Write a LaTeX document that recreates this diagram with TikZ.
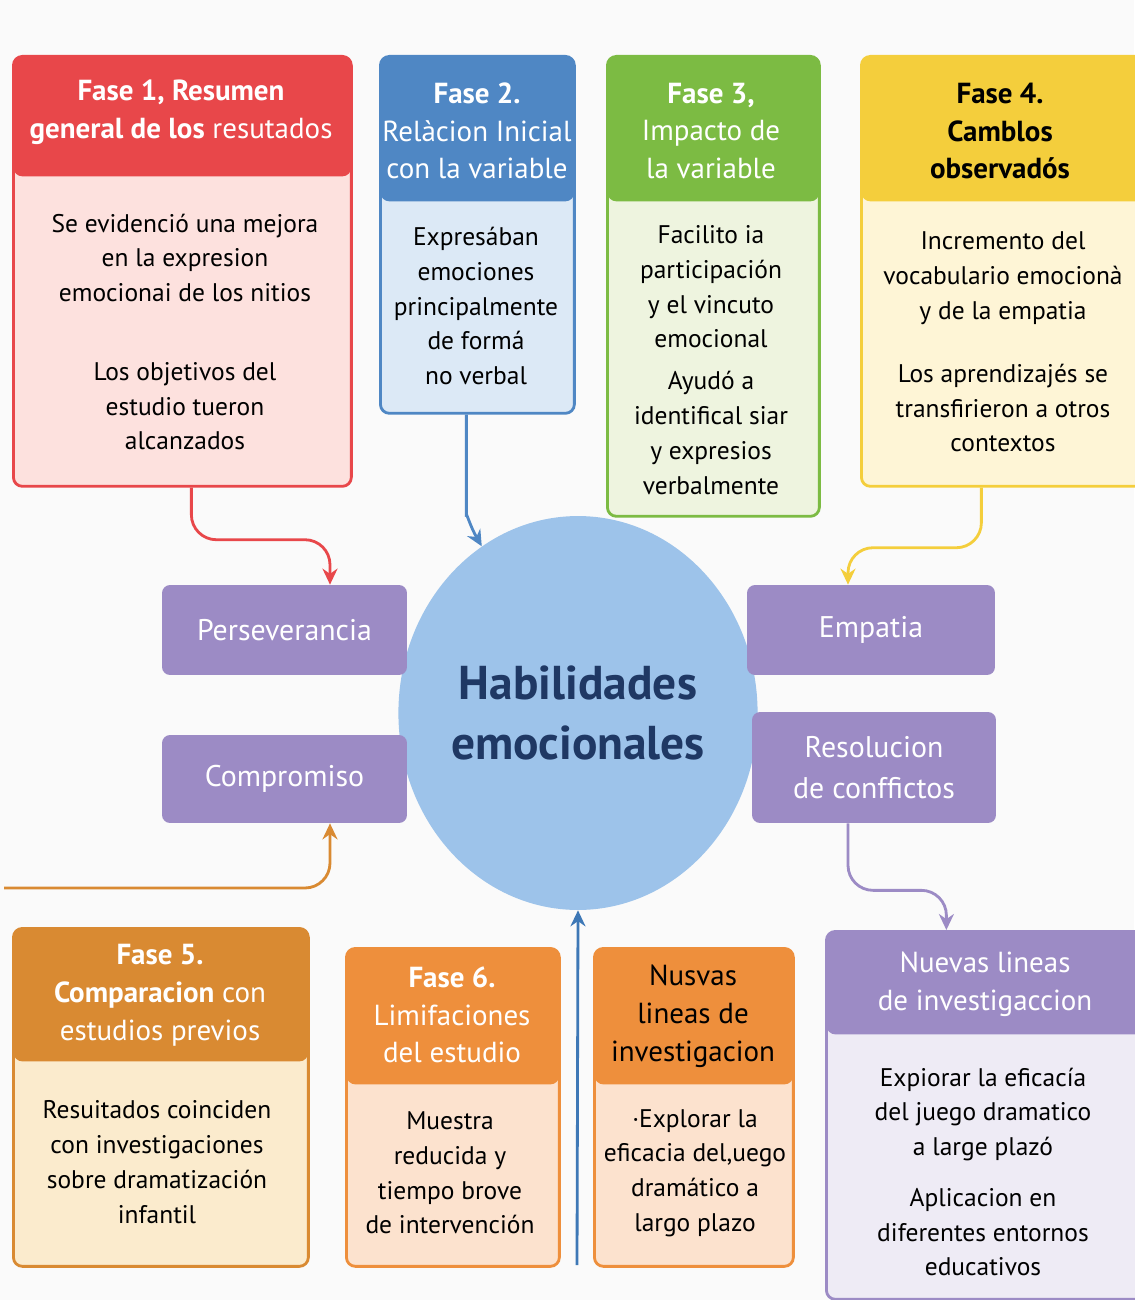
\documentclass[tikz,border=0pt]{standalone}
\usepackage{fontspec}
\setmainfont{PT Sans}
\usetikzlibrary{arrows.meta}
\usetikzlibrary{shapes.geometric}

\definecolor{bg}{HTML}{FAFAFA}
\definecolor{f1head}{HTML}{E8474A}
\definecolor{f1body}{HTML}{FDE1DE}
\definecolor{f2head}{HTML}{4F87C4}
\definecolor{f2body}{HTML}{DCE9F6}
\definecolor{f3head}{HTML}{7CBB43}
\definecolor{f3body}{HTML}{EEF4DF}
\definecolor{f4head}{HTML}{F4CE3C}
\definecolor{f4body}{HTML}{FEF5D6}
\definecolor{f5head}{HTML}{D98A32}
\definecolor{f5body}{HTML}{FBEBCD}
\definecolor{f6head}{HTML}{EE8F3C}
\definecolor{f6body}{HTML}{FCE2CE}
\definecolor{lila}{HTML}{9C8BC5}
\definecolor{lilabody}{HTML}{EEEBF5}
\definecolor{hubblue}{HTML}{9DC3EA}
\definecolor{navy}{HTML}{1F3864}
\definecolor{baseblue}{HTML}{3E78B6}

\begin{document}
\begin{tikzpicture}[x=0.02cm, y=-0.02cm,
  phase/.style 2 args={draw=#1, fill=#2, line width=1.6pt, rounded corners=0.18cm,
    anchor=north west, inner sep=0pt},
  head/.style 2 args={path picture={\fill[#1] (path picture bounding box.north west)
    rectangle ([yshift=-#2]path picture bounding box.north east);}},
  skill/.style={fill=lila, rounded corners=0.16cm, text=white, align=center,
    font=\fontsize{17}{23}\selectfont, minimum width=4.9cm, minimum height=1.8cm},
  htxt/.style={align=center, text=white, font=\fontsize{16.5}{21.5}\selectfont},
  btxt/.style={align=center, font=\fontsize{14.5}{19.8}\selectfont},
  link/.style={line width=1.6pt, rounded corners=0.5cm, -{Stealth[length=0.32cm, width=0.3cm]}}]

  \useasboundingbox (0,0) rectangle (1134,1300);
  \fill[bg] (0,0) rectangle (1134,1300);

  % draw phase boxes
  \node[phase={f1head}{f1body}, head={f1head}{2.4cm}, minimum width=6.76cm, minimum height=8.6cm] (f1) at (12,55) {};
  \node[phase={f2head}{f2body}, head={f2head}{2.9cm}, minimum width=3.88cm, minimum height=7.14cm] (f2) at (379,55) {};
  \node[phase={f3head}{f3body}, head={f3head}{2.9cm}, minimum width=4.24cm, minimum height=9.2cm] (f3) at (606,55) {};
  \node[phase={f4head}{f4body}, head={f4head}{2.9cm}, minimum width=5.7cm, minimum height=8.6cm] (f4) at (860,55) {};
  \node[phase={f5head}{f5body}, head={f5head}{2.66cm}, minimum width=5.9cm, minimum height=6.76cm] (f5) at (12,927) {};
  \node[phase={f6head}{f6body}, head={f6head}{2.72cm}, minimum width=4.26cm, minimum height=6.36cm] (f6) at (345,947) {};
  \node[phase={f6head}{f6body}, head={f6head}{2.72cm}, minimum width=3.98cm, minimum height=6.36cm] (f7) at (593,947) {};
  \node[phase={lila}{lilabody}, head={lila}{2.06cm}, minimum width=6.4cm, minimum height=7.36cm] (f8) at (825,930) {};

  % headers
  \node[htxt] (f1h) at (181,112) {\textbf{Fase 1, Resumen}\\\textbf{general de los} resutados};
  \node[htxt] (f2h) at (477,131) {\textbf{Fase 2.}\\Relàcion Inicial\\con la variable};
  \node[htxt] (f3h) at (711,131) {\textbf{Fase 3,}\\Impacto de\\la variable};
  \node[htxt, text=black] (f4h) at (1000,131) {\textbf{Fase 4.}\\\textbf{Camblos}\\\textbf{observadós}};
  \node[htxt] (f5h) at (160,995) {\textbf{Fase 5.}\\\textbf{Comparacion} con\\estudios previos};
  \node[htxt] (f6h) at (452,1015) {\textbf{Fase 6.}\\Limifaciones\\del estudio};
  \node[htxt, text=black] (f7h) at (693,1016) {Nusvas\\lineas de\\investigacion};
  \node[htxt] (f8h) at (985,984) {Nuevas lineas\\de investigaccion};

  % texts
  \node[btxt] (f1b) at (185,332) {Se evidenció una mejora\\en la expresion\\emocionai de los nitios\\[25pt]Los objetivos del\\estudio tueron\\alcanzados};
  \node[btxt] (f2b) at (476,306) {Expresában\\emociones\\principalmente\\de formá\\no verbal};
  \node[btxt] (f3b) at (711,360) {Facilito ia\\participación\\y el vincuto\\emocional\\[4pt]Ayudó a\\identifical siar\\y expresios\\verbalmente};
  \node[btxt] (f4b) at (1003,342) {Incremento del\\vocabulario emocionà\\y de la empatia\\[16pt]Los aprendizajés se\\transfirieron a otros\\contextos};
  \node[btxt] (f5b) at (157,1162) {Resuitados coinciden\\con investigaciones\\sobre dramatización\\infantil};
  \node[btxt] (f6b) at (450,1173) {Muestra\\reducida y\\tiempo brove\\de intervención};
  \node[btxt] (f7b) at (695,1173) {·Explorar la\\eficacia del,uego\\dramático a\\largo plazo};
  \node[btxt] (f8b) at (983,1172) {Expiorar la eficacía\\del juego dramatico\\a large plazó\\[9pt]Aplicacion en\\diferentes entornos\\educativos};

  % draw center and skills
  \node[ellipse, fill=hubblue, inner sep=0pt, minimum width=7cm, minimum height=7.88cm,
    align=center, text=navy, font=\fontsize{27}{34}\selectfont\bfseries] (hub) at (578,713) {Habilidades\\emocionales};
  \node[skill] (pers) at (284.5,630) {Perseverancia};
  \node[skill, minimum height=1.76cm] (comp) at (284.5,779) {Compromiso};
  \node[skill, minimum width=4.96cm] (emp) at (871,630) {Empatia};
  \node[skill, minimum width=4.88cm, minimum height=2.22cm] (res) at (874,767.5) {Resolucion\\de conffictos};

  % draw arrows
  \coordinate (c5) at (4,888);
  \coordinate (c0) at (577,1265);
  \draw[link, draw=f1head] ([xshift=0.18cm]f1.south) -- ++(0,52) -| ([xshift=0.91cm]pers.north);
  \draw[link, draw=f2head] ([xshift=-0.22cm]f2.south) -- ++(0,75) to[out=-90, in=120] (hub.120);
  \draw[link, draw=f4head] ([xshift=-0.45cm]f4.south) -- ++(0,60) -| ([xshift=-0.46cm]emp.north);
  \draw[link, draw=f5head] (c5) -| ([xshift=0.91cm]comp.south);
  \draw[link, draw=lila] ([xshift=-0.52cm]res.south) -- ++(0,67) -| ([xshift=-0.8cm]f8.north);
  \draw[link, draw=baseblue] (c0) -- (hub.south);
\end{tikzpicture}
\end{document}
